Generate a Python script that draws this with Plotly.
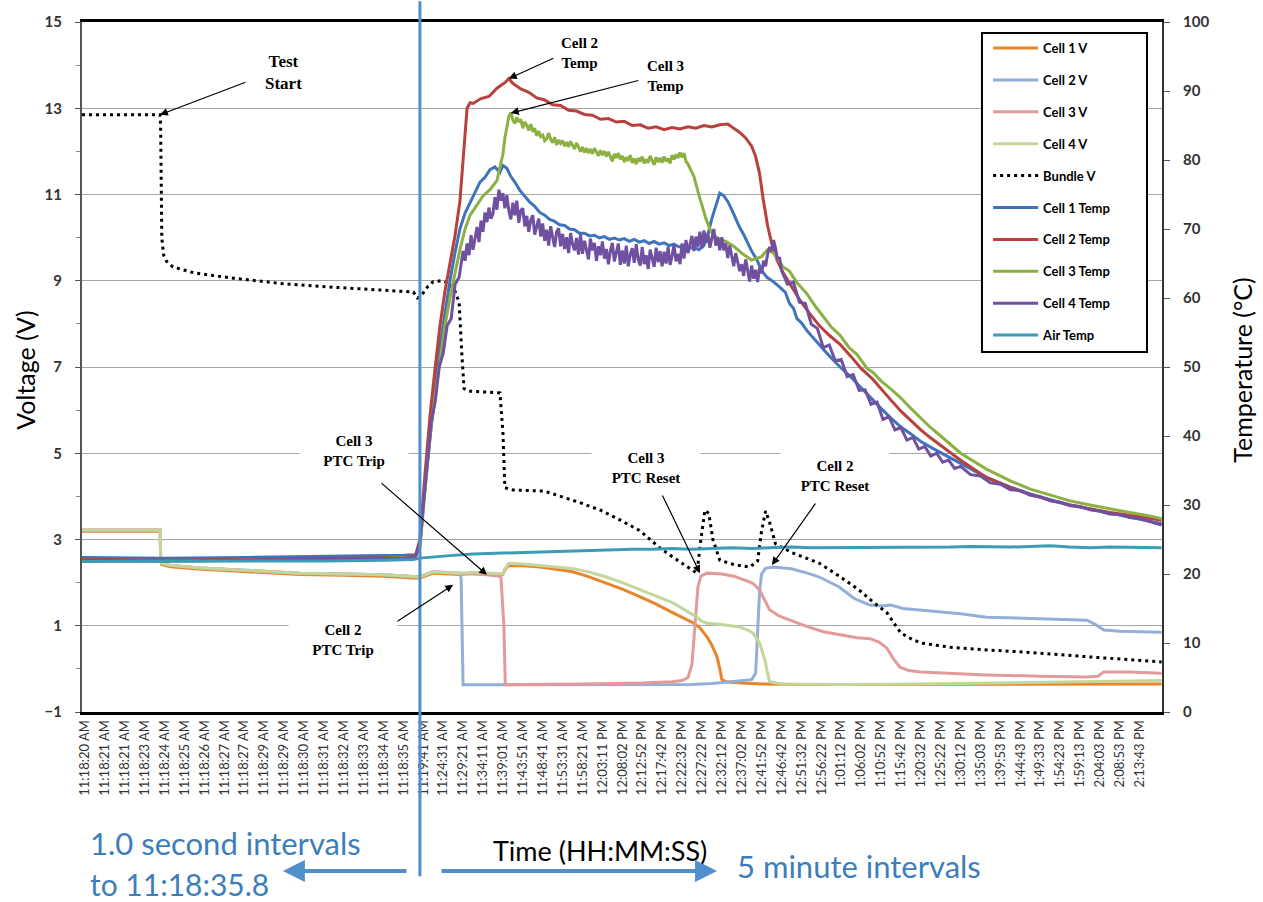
import numpy as np
import plotly.graph_objects as go

# ---------------- category axis (sample timestamps) ----------------
time_labels = [
    "11:18:20 AM", "11:18:21 AM", "11:18:21 AM", "11:18:23 AM", "11:18:24 AM", "11:18:25 AM",
    "11:18:26 AM", "11:18:27 AM", "11:18:27 AM", "11:18:29 AM", "11:18:29 AM", "11:18:30 AM",
    "11:18:31 AM", "11:18:32 AM", "11:18:33 AM", "11:18:34 AM", "11:18:35 AM", "11:19:41 AM",
    "11:24:31 AM", "11:29:21 AM", "11:34:11 AM", "11:39:01 AM", "11:43:51 AM", "11:48:41 AM",
    "11:53:31 AM", "11:58:21 AM", "12:03:11 PM", "12:08:02 PM", "12:12:52 PM", "12:17:42 PM",
    "12:22:32 PM", "12:27:22 PM", "12:32:12 PM", "12:37:02 PM", "12:41:52 PM", "12:46:42 PM",
    "12:51:32 PM", "12:56:22 PM", "1:01:12 PM", "1:06:02 PM", "1:10:52 PM", "1:15:42 PM",
    "1:20:32 PM", "1:25:22 PM", "1:30:12 PM", "1:35:03 PM", "1:39:53 PM", "1:44:43 PM",
    "1:49:33 PM", "1:54:23 PM", "1:59:13 PM", "2:04:03 PM", "2:08:53 PM", "2:13:43 PM",
]
tick_pos = list(range(len(time_labels)))
split_pos = 16.83          # end of the 1-second sampling block

# ---------------- voltages (V) ----------------
# all four cells read the same value until the first PTC trip
rest_x = [-0.15, 3.78, 3.8, 3.85, 4.3, 5.8, 7.5, 9.0, 10.8, 13.0, 15.0, 16.5, 16.8, 17.2, 17.5, 18.3, 18.85]
rest_v = [3.22, 3.22, 2.6, 2.45, 2.40, 2.34, 2.30, 2.26, 2.22, 2.20, 2.18, 2.14, 2.13, 2.20, 2.25, 2.23, 2.22]

cell1_v_x = rest_x + [19.5, 20.5, 21.0, 21.1, 21.3, 22.0, 22.86, 23.5, 24.5, 25.3, 26.2, 27.0, 27.9, 28.7,
                      29.55, 30.1, 30.55, 30.9, 31.26, 31.5, 31.76, 31.9, 32.0, 32.2, 33.0, 34.0, 36.0,
                      40.0, 45.0, 50.0, 54.1]
cell1_v = [v - 0.03 for v in rest_v] + [
    2.22, 2.20, 2.19, 2.30, 2.40, 2.39, 2.36, 2.32, 2.25, 2.14, 1.99, 1.85, 1.67, 1.50,
    1.30, 1.18, 1.07, 0.95, 0.74, 0.55, 0.28, 0.00, -0.24, -0.30, -0.33, -0.35, -0.36,
    -0.36, -0.36, -0.36, -0.35]

cell2_v_x = rest_x + [18.9, 18.95, 19.0, 21.0, 25.0, 30.0, 30.5, 31.5, 32.5, 33.0, 33.5, 33.7, 33.8,
                      33.9, 34.0, 34.2, 34.57, 35.5, 36.3, 36.9, 37.9, 38.6, 38.9, 39.45, 40.0, 40.5,
                      41.1, 42.5, 44.0, 45.3, 47.0, 49.0, 50.35, 50.8, 51.2, 52.0, 54.1]
cell2_v = rest_v + [2.10, 0.50, -0.37, -0.37, -0.37, -0.37, -0.36, -0.34, -0.30, -0.28, -0.25, -0.10, 0.80,
                    1.80, 2.20, 2.33, 2.36, 2.32, 2.22, 2.13, 1.90, 1.65, 1.58, 1.48, 1.46, 1.48,
                    1.40, 1.35, 1.28, 1.20, 1.18, 1.15, 1.13, 1.02, 0.90, 0.87, 0.85]

cell3_v_x = rest_x + [19.5, 20.2, 20.9, 21.05, 21.12, 22.0, 25.0, 28.0, 29.5, 30.0, 30.3, 30.5, 30.65,
                      30.8, 30.95, 31.26, 32.0, 32.6, 33.2, 33.57, 33.9, 34.2, 34.4, 34.9, 35.4, 36.3,
                      37.1, 38.0, 38.8, 39.45, 39.9, 40.3, 40.6, 40.95, 41.4, 42.0, 45.3, 48.0, 50.35,
                      50.9, 51.2, 52.5, 54.1]
cell3_v = rest_v + [2.21, 2.18, 2.14, 1.00, -0.37, -0.36, -0.35, -0.33, -0.30, -0.27, -0.20, 0.10, 1.00,
                    1.90, 2.15, 2.22, 2.20, 2.15, 2.05, 1.98, 1.83, 1.55, 1.37, 1.22, 1.13, 0.98,
                    0.86, 0.78, 0.72, 0.70, 0.62, 0.48, 0.25, 0.04, -0.04, -0.07, -0.14, -0.17, -0.19,
                    -0.17, -0.07, -0.07, -0.10]

cell4_v_x = rest_x + [19.5, 20.5, 21.0, 21.1, 21.3, 22.0, 23.0, 24.5, 25.3, 26.2, 27.0, 27.9, 28.7, 29.55,
                      30.2, 30.75, 31.0, 31.26, 32.0, 32.9, 33.3, 33.57, 33.9, 34.17, 34.3, 34.4, 35.0,
                      38.0, 42.0, 46.0, 50.0, 54.1]
cell4_v = rest_v + [2.24, 2.22, 2.20, 2.32, 2.45, 2.43, 2.39, 2.33, 2.25, 2.13, 2.00, 1.83, 1.68, 1.53,
                    1.35, 1.20, 1.10, 1.06, 1.03, 0.97, 0.90, 0.83, 0.60, 0.20, -0.10, -0.30, -0.35,
                    -0.36, -0.35, -0.33, -0.30, -0.27]

bundle_v_x = [-0.15, 3.77, 3.8, 3.83, 3.86, 3.95, 4.1, 4.42, 5.5, 7.44, 10.0, 12.46, 15.0, 16.5, 16.7,
              16.85, 17.2, 17.5, 17.9, 18.3, 18.6, 18.8, 18.95, 19.05, 19.3, 20.0, 20.85, 21.0, 21.1,
              21.5, 22.5, 23.1, 23.9, 24.9, 25.9, 26.9, 27.9, 28.9, 29.9, 30.5, 30.75, 30.95, 31.15,
              31.35, 31.55, 31.9, 32.6, 33.4, 33.8, 34.0, 34.2, 34.4, 34.7, 35.5, 36.9, 37.9, 38.9,
              39.6, 40.3, 41.0, 41.5, 42.0, 43.5, 45.3, 47.5, 50.4, 52.5, 54.1]
bundle_v = [12.85, 12.85, 12.6, 11.0, 10.0, 9.6, 9.45, 9.32, 9.18, 9.06, 8.93, 8.85, 8.78, 8.74, 8.6,
            8.62, 8.85, 8.98, 9.0, 8.95, 8.75, 8.5, 7.2, 6.5, 6.44, 6.42, 6.4, 5.5, 4.2,
            4.15, 4.13, 4.12, 4.0, 3.85, 3.68, 3.45, 3.2, 2.8, 2.48, 2.3, 2.22, 3.0, 3.68,
            3.6, 3.0, 2.52, 2.42, 2.36, 2.5, 3.2, 3.66, 3.4, 2.9, 2.7, 2.45, 2.15, 1.83,
            1.55, 1.3, 0.83, 0.7, 0.6, 0.5, 0.44, 0.38, 0.28, 0.22, 0.16]

# ---------------- temperatures (°C) ----------------
cell1_t_x = [-0.15, 4, 8, 12, 14.5, 16.0, 16.6, 16.83, 17.1, 17.34, 17.6, 17.84, 18.09, 18.34, 18.59,
             18.84, 19.1, 19.35, 19.6, 19.85, 20.1, 20.35, 20.6, 20.85, 21.0, 21.2, 21.4, 21.6, 21.85,
             22.1, 22.35, 22.6, 22.85, 23.1, 23.35, 23.6, 23.85, 24.1, 24.35, 24.6, 24.85, 25.1, 25.35,
             25.6, 25.85, 26.1, 26.35, 26.6, 26.85, 27.1, 27.35, 27.6, 27.85, 28.1, 28.35, 28.6, 28.85,
             29.1, 29.35, 29.6, 29.85, 30.1, 30.35, 30.6, 30.85, 31.1, 31.3, 31.5, 31.7, 31.9, 32.1,
             32.3, 32.5, 32.7, 32.9, 33.1, 33.3, 33.5, 33.77, 34.0, 34.27, 34.57, 34.9, 35.2, 35.4,
             35.6, 35.78, 36.0, 36.3, 36.7, 37.09, 37.5, 37.94, 38.4, 38.8, 39.2, 39.6, 40.0, 40.5,
             41.0, 41.5, 42.0, 42.6, 43.6, 44.5, 45.3, 46.5, 47.5, 48.6, 49.5, 50.5, 51.5, 52.5, 53.5,
             54.1]
cell1_t = [22.4, 22.3, 22.4, 22.5, 22.6, 22.7, 22.8, 24.0, 33.0, 40.0, 47.0, 53.0, 58.0, 62.5, 66.5,
           70.0, 72.3, 73.8, 75.3, 76.8, 77.5, 78.6, 79.0, 78.2, 79.2, 78.8, 77.6, 76.8, 75.6,
           74.8, 73.9, 73.3, 72.4, 72.0, 71.4, 71.1, 70.6, 70.5, 70.0, 69.9, 69.4, 69.4, 69.0,
           69.1, 68.7, 68.9, 68.5, 68.7, 68.4, 68.6, 68.2, 68.5, 68.1, 68.3, 67.9, 68.2, 67.8,
           68.0, 67.6, 67.8, 67.4, 67.6, 67.2, 67.3, 67.0, 67.6, 69.2, 71.5, 73.5, 75.2, 74.8,
           74.0, 72.8, 71.5, 70.2, 69.2, 68.0, 66.8, 65.5, 64.0, 63.0, 62.4, 61.6, 60.8, 59.2,
           58.5, 57.0, 56.4, 55.2, 53.8, 52.6, 51.3, 50.0, 48.8, 47.6, 46.3, 45.2, 44.0, 42.6,
           41.3, 40.3, 39.2, 38.2, 36.6, 35.2, 34.0, 32.6, 31.6, 30.7, 30.0, 29.4, 28.8, 28.2, 27.7,
           27.3]

cell2_t_x = [-0.15, 4, 8, 12, 14.5, 16.0, 16.6, 16.83, 17.1, 17.34, 17.6, 17.84, 18.09, 18.34, 18.59,
             18.84, 19.0, 19.1, 19.2, 19.35, 19.5, 19.9, 20.3, 20.7, 21.1, 21.3, 21.5, 21.9, 22.3,
             22.7, 23.1, 23.5, 23.9, 24.3, 24.7, 25.1, 25.5, 25.9, 26.3, 26.7, 27.1, 27.5, 27.9,
             28.3, 28.7, 29.1, 29.5, 29.9, 30.3, 30.7, 31.1, 31.5, 31.9, 32.3, 32.6, 32.9, 33.2,
             33.5, 33.7, 33.9, 34.07, 34.3, 34.5, 34.77, 35.1, 35.5, 35.9, 36.4, 36.9, 37.4, 37.94,
             38.5, 39.0, 39.6, 40.0, 40.5, 41.0, 41.5, 42.0, 42.5, 43.0, 44.0, 45.3, 46.5, 47.5,
             48.6, 49.5, 50.5, 51.5, 52.5, 53.5, 54.1]
cell2_t = [22.1, 22.0, 22.1, 22.2, 22.3, 22.4, 22.6, 25.0, 35.0, 43.0, 50.0, 56.0, 61.0, 65.0, 69.0,
           74.0, 80.0, 85.0, 87.5, 88.3, 88.2, 88.9, 89.2, 90.4, 91.2, 91.8, 91.1, 90.3, 89.8,
           89.0, 88.7, 88.0, 87.9, 87.2, 87.1, 86.6, 86.5, 85.9, 86.0, 85.5, 85.6, 85.0, 85.1,
           84.6, 84.8, 84.4, 84.7, 84.5, 84.8, 84.6, 85.0, 84.8, 85.1, 85.2, 84.6, 84.0, 83.2,
           82.0, 80.5, 78.0, 74.5, 70.5, 68.0, 65.5, 63.6, 61.6, 59.8, 57.8, 56.0, 54.6, 53.3,
           51.5, 49.8, 48.2, 46.8, 45.2, 43.6, 42.2, 40.9, 39.7, 38.6, 36.5, 34.0, 32.5, 31.5,
           30.6, 30.0, 29.4, 28.9, 28.5, 28.1, 27.8]

# Cell 3: rise, plateau logged every 0.1 category from 21.0, then cool-down
cell3_rise_x = [-0.15, 4, 8, 12, 14.5, 16.0, 16.6, 16.83, 17.1, 17.34, 17.6, 17.84, 18.09, 18.34, 18.59,
                18.84, 19.1, 19.35, 19.7, 20.0, 20.35, 20.7, 20.85]
cell3_rise = [22.0, 21.9, 22.0, 22.0, 22.2, 22.3, 22.4, 24.0, 33.0, 40.0, 46.0, 51.0, 56.0, 60.0, 63.5,
              67.0, 70.0, 72.0, 73.5, 74.8, 75.7, 77.0, 79.0]
cell3_plateau_start = 21.0
cell3_plateau = [
    80.8, 83.2, 85.1, 86.3, 86.9, 85.8, 85.3, 86.2, 85.5, 85.9,
    84.6, 85.5, 85.0, 84.3, 85.2, 84.1, 84.6, 83.5, 84.2, 83.4,
    83.6, 82.8, 83.1, 83.9, 83.0, 82.5, 83.3, 82.2, 82.9, 82.4,
    82.8, 82.0, 82.6, 81.9, 82.7, 82.2, 81.6, 82.5, 81.8, 81.2,
    81.9, 81.1, 81.7, 81.0, 81.6, 80.9, 81.7, 81.2, 80.6, 81.4,
    80.7, 81.3, 80.5, 81.2, 80.4, 79.8, 80.9, 80.3, 81.0, 80.1,
    80.6, 79.7, 80.4, 79.9, 80.7, 79.6, 80.2, 79.4, 80.3, 79.8,
    80.5, 79.5, 80.1, 79.6, 80.6, 79.9, 79.3, 80.4, 79.7, 80.3,
    79.6, 80.5, 79.8, 80.2, 79.5, 80.7, 80.1, 80.8, 80.3, 81.1,
    80.4, 81.0, 79.8, 79.4, 78.9, 78.2, 77.6, 76.4, 75.6, 74.4,
]
cell3_fall_x = [31.0, 31.2, 31.4, 31.6, 31.9, 32.2, 32.6, 33.0, 33.5, 34.0, 34.3,
                34.6, 35.08, 35.4, 35.78, 36.28, 36.7, 37.09, 37.5, 37.94, 38.4, 38.8, 39.3, 39.6,
                40.0, 40.5, 41.0, 41.5, 42.0, 42.5, 43.0, 44.0, 45.3, 46.5, 47.5, 48.6, 49.5, 50.5,
                51.5, 52.5, 53.5, 54.1]
cell3_fall = [73.5, 71.5, 70.0, 69.0, 68.5, 68.2, 67.5, 66.5, 65.5, 66.0, 67.0,
              66.5, 64.5, 63.9, 62.2, 60.6, 58.8, 57.4, 55.8, 54.6, 52.8, 51.8, 49.8, 49.2,
              48.0, 46.8, 45.5, 44.0, 42.6, 41.2, 40.0, 37.5, 35.2, 33.5, 32.3, 31.4, 30.6, 30.0,
              29.4, 28.9, 28.4, 28.0]

# Cell 4: rise, plateau logged every 0.1 category from 19.0, then cool-down
cell4_rise_x = [-0.15, 4, 8, 12, 14.5, 16.0, 16.6, 16.83, 17.0, 17.2, 17.4, 17.6, 17.8, 18.0, 18.2,
                18.4, 18.6, 18.8]
cell4_rise = [22.0, 21.9, 22.0, 22.1, 22.2, 22.3, 22.4, 24.5, 30.0, 36.0, 42.0, 45.0, 50.0, 52.0, 56.0,
              57.0, 62.0, 63.0]
cell4_plateau_start = 19.0
cell4_plateau = [
    66.8, 65.4, 67.9, 66.2, 69.1, 67.0, 68.4, 70.3, 68.1, 71.2,
    69.6, 72.4, 71.0, 73.1, 71.5, 72.2, 74.6, 72.8, 75.7, 74.1,
    75.2, 73.0, 74.9, 72.6, 71.4, 73.8, 72.0, 74.1, 70.9, 72.7,
    73.0, 70.4, 71.9, 69.6, 71.3, 72.0, 69.2, 70.6, 71.5, 68.9,
    70.8, 68.3, 69.9, 67.6, 70.4, 68.8, 67.4, 69.6, 70.1, 67.5,
    69.3, 67.1, 68.8, 66.5, 69.4, 67.8, 66.9, 68.7, 66.3, 69.2,
    66.4, 68.3, 67.0, 65.6, 68.6, 66.9, 68.0, 65.4, 67.5, 66.2,
    68.2, 65.7, 67.1, 64.9, 66.8, 68.0, 65.3, 66.6, 67.9, 64.8,
    66.9, 65.0, 67.6, 64.6, 66.3, 67.2, 65.1, 67.8, 65.6, 64.7,
    67.4, 64.9, 66.2, 64.2, 67.0, 65.8, 64.5, 67.3, 65.2, 66.8,
    64.6, 66.7, 65.0, 67.4, 64.8, 66.1, 67.7, 65.3, 66.4, 64.9,
    67.9, 65.7, 68.4, 66.5, 67.6, 69.0, 66.8, 68.9, 67.4, 69.6,
    67.2, 69.8, 68.0, 69.4, 67.3, 68.9, 70.0, 67.6, 68.8, 66.9,
    68.8, 66.9, 67.9, 65.8, 67.6, 66.1, 64.6, 66.5, 65.0, 63.9,
    64.9, 63.2, 65.6, 63.9, 62.4, 64.7, 62.8, 64.1, 62.3, 64.4,
    63.6, 65.4, 64.6, 66.3, 67.4, 66.8, 68.4, 67.2, 65.6, 65.9,
    64.0,
]
cell4_fall_x = [35.3, 35.6, 35.9, 36.2, 36.5, 36.8, 37.1, 37.4, 37.7, 38.0, 38.3, 38.6, 38.9, 39.2,
                39.5, 39.8, 40.1, 40.4, 40.7, 41.0, 41.3, 41.6, 41.9, 42.2, 42.5, 42.8, 43.1, 43.4,
                43.7, 44.0, 44.5, 45.0, 45.5, 46.0, 46.5, 47.0, 47.5, 48.0, 48.5, 49.0, 49.5, 50.0,
                50.5, 51.0, 51.5, 52.0, 52.5, 53.0, 53.5, 54.1]
cell4_fall = [62.0, 62.3, 59.4, 59.2, 56.2, 55.6, 52.8, 53.2, 50.9, 51.1, 48.6, 48.9, 46.6, 46.7,
              44.6, 44.9, 42.4, 42.8, 40.9, 41.2, 39.4, 39.8, 38.1, 38.5, 37.1, 37.5, 36.2, 36.5,
              35.3, 35.6, 34.4, 34.2, 33.2, 33.0, 32.2, 32.1, 31.4, 31.2, 30.6, 30.4, 29.9, 29.8,
              29.3, 29.1, 28.7, 28.6, 28.2, 28.0, 27.6, 27.1]

air_t_x = [-0.15, 4, 8, 12, 15, 16.5, 16.83, 17.5, 18.5, 19.5, 20.5, 21.5, 22.5, 23.5, 24.5, 25.5,
           26.5, 27.5, 28.5, 29.5, 30.5, 31.5, 32.5, 33.5, 34.5, 35.5, 36.5, 37.5, 38.5, 39.5, 40.5,
           41.5, 42.5, 43.5, 44.5, 45.5, 46.5, 47.5, 48.5, 49.5, 50.5, 51.5, 52.5, 53.5, 54.1]
air_t = [21.8, 21.8, 21.8, 21.9, 22.0, 22.1, 22.3, 22.5, 22.7, 22.9, 23.0, 23.1, 23.2, 23.3, 23.4, 23.5,
         23.5, 23.6, 23.6, 23.7, 23.6, 23.7, 23.8, 23.7, 23.8, 23.9, 23.8, 23.8, 23.9, 23.8, 23.9,
         23.9, 23.8, 23.9, 24.0, 23.9, 23.9, 24.0, 24.1, 23.9, 23.8, 23.9, 23.9, 23.8, 23.8]


def sampled(start, values, step=0.1):
    """x positions for a block of readings logged at a fixed category step."""
    return list(np.round(start + step * np.arange(len(values)), 3))


cell3_t_x = cell3_rise_x + sampled(cell3_plateau_start, cell3_plateau) + cell3_fall_x
cell3_t = cell3_rise + cell3_plateau + cell3_fall
cell4_t_x = cell4_rise_x + sampled(cell4_plateau_start, cell4_plateau) + cell4_fall_x
cell4_t = cell4_rise + cell4_plateau + cell4_fall

series = [
    ("Cell 1 V", cell1_v_x, cell1_v, "#E8852C", "solid", "y"),
    ("Cell 2 V", cell2_v_x, cell2_v, "#93AFD8", "solid", "y"),
    ("Cell 3 V", cell3_v_x, cell3_v, "#E39A9A", "solid", "y"),
    ("Cell 4 V", cell4_v_x, cell4_v, "#C3D69B", "solid", "y"),
    ("Bundle V", bundle_v_x, bundle_v, "#000000", "3px,4px", "y"),
    ("Cell 1 Temp", cell1_t_x, cell1_t, "#3E74BB", "solid", "y2"),
    ("Cell 2 Temp", cell2_t_x, cell2_t, "#B8403D", "solid", "y2"),
    ("Cell 3 Temp", cell3_t_x, cell3_t, "#8DB043", "solid", "y2"),
    ("Cell 4 Temp", cell4_t_x, cell4_t, "#7050A0", "solid", "y2"),
    ("Air Temp", air_t_x, air_t, "#3C9CB6", "solid", "y2"),
]

fig = go.Figure()
for name, xs, ys, color, dash, axis in series:
    fig.add_trace(go.Scatter(
        x=xs, y=ys, name=name, mode="lines", yaxis=axis, legendgroup=name,
        line=dict(color=color, width=3, dash=dash),
    ))

sans = "Lato, Open Sans, sans-serif"
serif = "Liberation Serif, Times New Roman, serif"

fig.update_layout(
    width=1263, height=902,
    margin=dict(l=82, r=101, t=22, b=190),
    paper_bgcolor="white", plot_bgcolor="white",
    showlegend=True,
    legend=dict(
        x=0.839, y=0.984, xanchor="left", yanchor="top",
        bgcolor="rgba(0,0,0,0)", borderwidth=0,
        font=dict(family=sans, size=13, color="black", weight="bold"),
        traceorder="grouped", tracegroupgap=12, itemwidth=45,
    ),
    xaxis=dict(
        range=[-0.15, 54.12],
        tickmode="array", tickvals=tick_pos, ticktext=time_labels, tickangle=-90,
        tickfont=dict(family=sans, size=13, color="#333333"),
        showgrid=False, zeroline=False,
        showline=True, linecolor="black", linewidth=3, mirror=True,
        ticks="",
    ),
    yaxis=dict(
        range=[-1, 15],
        tickmode="array", tickvals=list(range(-1, 16, 2)),
        tickfont=dict(family=sans, size=15, color="#333333", weight="bold"),
        ticks="outside", ticklen=5, tickcolor="#555555", ticklabelstandoff=10,
        minor=dict(tickvals=list(range(0, 15, 2)), ticks="outside", ticklen=4, tickcolor="#888888"),
        showgrid=True, gridcolor="#A6A6A6", gridwidth=1, zeroline=False,
        showline=True, linecolor="#555555", linewidth=2,
    ),
    yaxis2=dict(
        range=[0, 100], overlaying="y", side="right",
        tickmode="array", tickvals=list(range(0, 101, 10)),
        tickfont=dict(family=sans, size=15, color="#333333", weight="bold"),
        ticks="outside", ticklen=6, tickcolor="#555555", ticklabelstandoff=10,
        showgrid=False, zeroline=False,
        showline=True, linecolor="#333333", linewidth=2,
    ),
)

# boundary between the 1-second block and the 5-minute block
fig.add_shape(type="line", xref="x", yref="paper", x0=split_pos, x1=split_pos,
              y0=-0.238, y1=1.03, line=dict(color="#4F8FCB", width=3), layer="above")
# framed white panel behind the legend entries
fig.add_shape(type="rect", xref="paper", yref="paper", x0=0.8333, x1=0.9861, y0=0.5217, y1=0.984,
              fillcolor="white", line=dict(color="black", width=2), layer="above")

annotations = []

# axis titles
for title, px in (("Voltage (V)", -0.0528), ("Temperature (°C)", 1.074)):
    annotations.append(dict(text=title, x=px, y=0.496, xref="paper", yref="paper",
                            xanchor="center", yanchor="middle", textangle=-90, showarrow=False,
                            font=dict(family=sans, size=25, color="black")))

# bottom captions and direction arrows
blue_txt = "#3D7EBA"
captions = [
    dict(text="1.0 second intervals", x=0.006, y=-0.19, xanchor="left",
         font=dict(family=sans, size=31, color=blue_txt)),
    dict(text="to 11:18:35.8", x=0.006, y=-0.249, xanchor="left",
         font=dict(family=sans, size=30, color=blue_txt)),
    dict(text="Time (HH:MM:SS)", x=0.4796, y=-0.2014, xanchor="center",
         font=dict(family=sans, size=27, color="black")),
    dict(text="5 minute intervals", x=0.6046, y=-0.2232, xanchor="left",
         font=dict(family=sans, size=31, color=blue_txt)),
]
for c in captions:
    c.update(xref="paper", yref="paper", yanchor="middle", showarrow=False)
annotations += captions
annotations += [
    dict(text="", x=0.186, y=-0.2304, xref="paper", yref="paper", ax=125, ay=0,
         showarrow=True, arrowhead=2, arrowsize=1.1, arrowwidth=4, arrowcolor="#4F8FCB"),
    dict(text="", x=0.588, y=-0.2304, xref="paper", yref="paper", ax=-277, ay=0,
         showarrow=True, arrowhead=2, arrowsize=1.1, arrowwidth=4, arrowcolor="#4F8FCB"),
]

# event call-outs: (label, text x, text y [V], boxed, head x, head y, head axis, tail dx, tail dy, size)
callouts = [
    ("Test<br>Start", 10.0, 13.82, False, 3.77, 12.85, "y", 87, -33, 17),
    ("Cell 2<br>Temp", 24.87, 14.28, False, 21.3, 91.8, "y2", 46, -21, 15),
    ("Cell 3<br>Temp", 29.15, 13.75, False, 21.4, 86.8, "y2", 129, -33, 15),
    ("Cell 3<br>PTC Trip", 13.52, 5.05, True, 20.2, 2.18, "y", -107, -93, 15),
    ("Cell 2<br>PTC Trip", 12.96, 0.67, True, 18.5, 1.95, "y", -61, 40, 15),
    ("Cell 3<br>PTC Reset", 28.19, 4.66, True, 30.9, 2.22, "y", -40, -83, 15),
    ("Cell 2<br>PTC Reset", 37.69, 4.47, True, 34.52, 2.41, "y", 46, -65, 15),
]
for label, tx, ty, boxed, hx, hy, hax, dx, dy, fs in callouts:
    annotations.append(dict(
        x=hx, y=hy, xref="x", yref=hax, ax=dx, ay=dy, text="", showarrow=True,
        arrowhead=2, arrowsize=1.3, arrowwidth=1.2, arrowcolor="black"))
    box = dict(bgcolor="white", width=106, height=52) if boxed else {}
    annotations.append(dict(
        x=tx, y=ty, xref="x", yref="y", text=f"<b>{label}</b>", showarrow=False,
        font=dict(family=serif, size=fs, color="black"), **box))

fig.update_layout(annotations=annotations)

fig.write_html("out.html")
